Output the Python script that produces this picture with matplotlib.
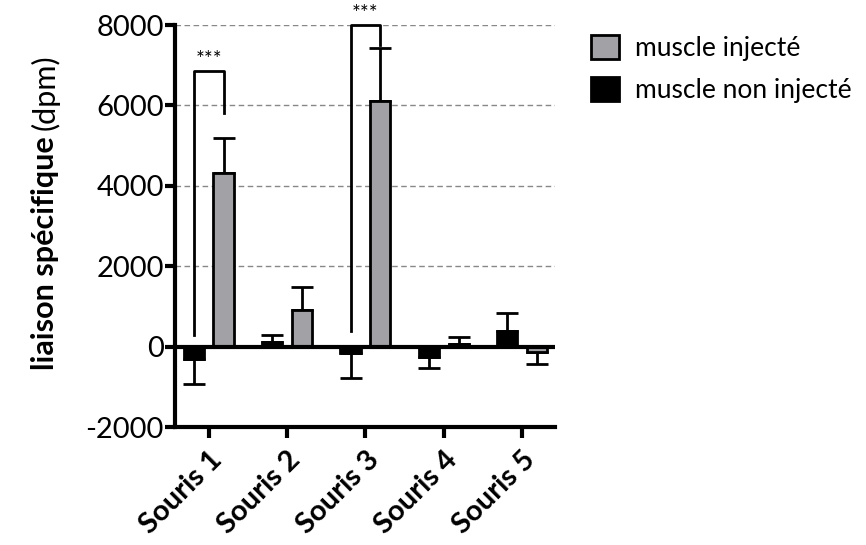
import numpy as np
import matplotlib.pyplot as plt

plt.rcParams['font.family'] = ['Lato', 'DejaVu Sans']
plt.rcParams['axes.unicode_minus'] = False

souris = ['Souris 1', 'Souris 2', 'Souris 3', 'Souris 4', 'Souris 5']
non_injecte = [-300, 120, -150, -250, 400]
non_injecte_err = [620, 180, 630, 270, 440]
injecte = [4330, 920, 6100, 70, -130]
injecte_err = [860, 570, 1320, 180, 310]

# crochets de significativité : (index, bas gauche, haut, bas droit)
signif = [(0, 280, 6850, 5800), (2, 400, 8000, 7500)]

x = np.arange(len(souris))
w = 0.26
off = 0.19

fig = plt.figure(figsize=(8.66, 5.45), dpi=100)
ax = fig.add_axes([0.202, 0.2165, 0.439, 0.7375])

for y in [2000, 4000, 6000, 8000]:
    ax.axhline(y, color='#888888', lw=1, ls=(0, (4, 2.5)), zorder=0)

def one_sided(vals, errs):
    lo = [e if v < 0 else 0 for v, e in zip(vals, errs)]
    hi = [e if v >= 0 else 0 for v, e in zip(vals, errs)]
    return [lo, hi]

ax.bar(x - off, non_injecte, w, color='black', edgecolor='black', lw=2,
       label='muscle non injecté', zorder=3)
ax.errorbar(x - off, non_injecte, yerr=one_sided(non_injecte, non_injecte_err),
            fmt='none', ecolor='black', elinewidth=2, capsize=8, capthick=2, zorder=2)
ax.bar(x + off, injecte, w, color='#a2a1a6', edgecolor='black', lw=2,
       label='muscle injecté', zorder=3)
ax.errorbar(x + off, injecte, yerr=one_sided(injecte, injecte_err),
            fmt='none', ecolor='black', elinewidth=2, capsize=8, capthick=2, zorder=2)

ax.axhline(0, color='black', lw=3, zorder=4)

for i, y0, ytop, y1 in signif:
    ax.plot([i - off, i - off, i + off, i + off], [y0, ytop, ytop, y1],
            color='black', lw=2, zorder=5, clip_on=False)
    ax.text(i, ytop + 20, '***', ha='center', va='bottom', fontsize=15)

ax.set_xlim(-0.43, 4.42)
ax.set_ylim(-2000, 8000)
ax.set_yticks([-2000, 0, 2000, 4000, 6000, 8000])
ax.set_xticks(x)
ax.set_xticklabels(souris, rotation=45, ha='right', rotation_mode='anchor',
                   fontsize=21, fontweight='bold')
ax.tick_params(axis='y', labelsize=21, width=3, length=7, pad=1)
ax.tick_params(axis='x', width=3, length=8, pad=6)
for s in ['top', 'right']:
    ax.spines[s].set_visible(False)
for s in ['left', 'bottom']:
    ax.spines[s].set_linewidth(3)

# titre de l'axe y : partie grasse + unité en normal
t1 = fig.text(0.052, 1 - 370 / 545, 'liaison spécifique', rotation=90, ha='center',
              va='bottom', fontsize=22, fontweight='bold')
fig.canvas.draw()
bb = t1.get_window_extent().transformed(fig.transFigure.inverted())
fig.text(0.052, bb.y1 + 0.012, '(dpm)', rotation=90, ha='center', va='bottom',
         fontsize=22)

h, l = ax.get_legend_handles_labels()
fig.legend(h[::-1], l[::-1], loc='upper left', bbox_to_anchor=(0.655, 0.98),
           frameon=False, fontsize=19, handlelength=1.05, handleheight=1.05,
           labelspacing=0.6, handletextpad=0.6)

fig.savefig('out.png', dpi=100)
